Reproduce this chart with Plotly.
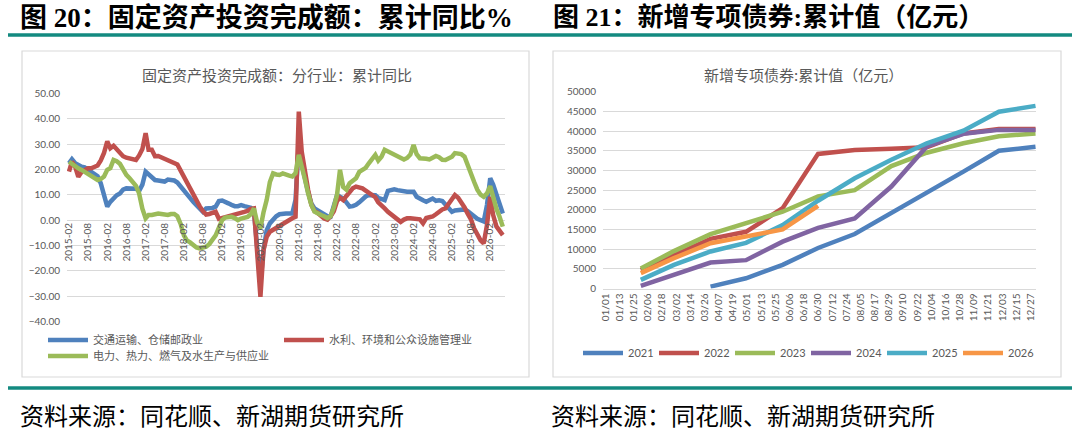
import pandas as pd
import plotly.graph_objects as go

W, H = 1080, 439

#%%# left chart: fixed asset investment by industry, cumulative yoy (%)
months = pd.date_range("2015-02-01", periods=137, freq="MS")

transport = [22.4, 24.0, 22.4, 21.5, 21.0, 20.8, 20.0, 19.3, 18.5, 17.3, 14.5,
             9.5, 5.3, 7.2, 8.8, 9.8, 10.5, 12.0, 12.5, 12.5, 12.5, 12.4, 11.5,
             14.0, 19.1, 18.0, 16.8, 15.8, 15.6, 15.5, 15.2, 16.0, 15.9, 15.6, 14.8,
             13.2, 11.9, 9.9, 8.5, 7.2, 5.9, 4.3, 3.3, 4.6, 4.6, 4.8, 5.3,
             7.5, 7.7, 7.0, 6.6, 6.0, 5.5, 5.5, 5.9, 5.5, 5.2, 4.9, 3.5,
             -10.0, -25.0, -12.0, -4.0, -1.3, 0.5, 1.5, 2.3, 2.6, 2.6, 2.6, 2.6,
             8.0, 30.5, 22.0, 15.8, 11.0, 6.5, 4.6, 3.8, 3.0, 2.0, 1.5, 1.3,
             6.0, 9.9, 9.2, 8.5, 7.0, 5.3, 5.5, 6.0, 7.0, 8.2, 9.3, 9.9,
             9.9, 9.8, 8.8, 8.3, 7.9, 11.5, 11.9, 12.1, 11.8, 11.5, 11.3, 11.2,
             11.2, 11.2, 9.2, 8.3, 7.8, 7.2, 8.0, 8.5, 7.6, 7.8, 7.5, 6.2,
             5.0, 3.3, 3.8, 4.0, 4.1, 4.2, 3.5, 2.5, 1.3, 0.5, 0.0, -0.5,
             5.9, 16.5, 14.0, 10.5, 6.0, 2.6]

water = [19.1, 23.0, 21.0, 17.1, 19.0, 19.8, 20.4, 20.4, 21.0, 21.5, 23.5,
         26.5, 31.0, 28.3, 29.3, 28.0, 26.5, 25.2, 24.6, 24.4, 24.0, 23.7, 25.5,
         28.0, 34.3, 27.7, 27.7, 25.2, 25.3, 24.8, 23.9, 23.3, 22.8, 22.5, 21.9,
         19.5, 17.1, 14.5, 12.0, 9.5, 7.3, 5.5, 3.5, 2.2, 2.4, 2.7, 3.3,
         0.5, 0.8, 1.3, 1.6, 1.8, 2.0, 2.4, 2.7, 3.2, 3.6, 4.4, 4.6,
         -13.0, -30.3, -12.0, -6.6, -4.6, -3.8, -2.8, -2.0, -1.3, -0.5, 0.3, 0.7,
         1.3, 42.8, 27.0, 18.0, 11.9, 6.0, 3.5, 2.8, 1.5, 0.6, 0.2, 1.5,
         3.5, 7.5, 8.8, 7.9, 9.5, 11.0, 12.5, 13.2, 13.0, 12.5, 11.6, 10.8,
         10.0, 9.0, 7.0, 5.5, 4.6, 3.3, 2.2, 1.0, 0.0, -0.7, 0.2, 0.7,
         0.7, 0.7, 0.5, 0.3, -1.3, 0.8, 1.1, 1.4, 2.3, 3.5, 4.2, 4.6,
         6.5, 7.9, 9.9, 8.8, 7.2, 5.0, 2.5, 0.3, -3.3, -6.0, -8.0, -9.2,
         -2.0, 9.2, 2.0, -2.5, -4.5, -5.9]

power = [23.0, 22.0, 21.3, 20.4, 19.8, 19.0, 18.2, 17.6, 16.5, 15.8, 16.2,
         17.2, 19.8, 20.5, 23.7, 23.2, 22.2, 19.8, 17.8, 16.5, 15.0, 13.5, 10.5,
         4.5, 0.7, 2.0, 2.0, 2.3, 2.6, 2.4, 2.2, 2.0, 2.4, 2.4, 1.5,
         -1.5, -6.0, -8.0, -8.8, -10.0, -10.8, -11.2, -11.0, -10.5, -9.5, -8.0, -6.0,
         -3.0, 0.0, 1.0, 1.3, 1.3, 0.8, 0.0, 0.6, 0.8, 1.2, 2.3, 4.6,
         -1.0, -3.3, 3.0, 8.0, 15.0, 18.4, 18.0, 17.8, 18.4, 17.8, 17.5, 17.2,
         18.5, 25.7, 21.5, 16.0, 10.5, 6.0, 3.3, 2.5, 2.0, 1.5, 0.8, 1.5,
         5.0, 10.0, 19.8, 13.0, 12.0, 14.5, 15.5, 16.5, 19.0, 20.0, 20.6, 22.4,
         24.0, 25.7, 23.5, 25.0, 27.7, 27.0, 26.3, 25.5, 25.1, 24.6, 23.9, 24.5,
         25.8, 29.6, 26.0, 24.4, 24.4, 24.2, 23.9, 24.6, 25.3, 24.8, 23.8, 23.7,
         24.5, 25.0, 26.4, 26.4, 26.0, 25.0, 21.5, 17.5, 15.0, 12.0, 10.0, 9.2,
         10.5, 13.4, 9.0, 4.5, 1.3, -2.6]

left_names = ["交通运输、仓储邮政业", "水利、环境和公众设施管理业", "电力、热力、燃气及水生产与供应业"]

#%%# right chart: new special bonds, cumulative (100m yuan), month ends
month_end = ["01-31", "02-28", "03-31", "04-30", "05-31", "06-30",
             "07-31", "08-31", "09-30", "10-31", "11-30", "12-31"]
years = ["2021", "2022", "2023", "2024", "2025", "2026"]
bond_2021 = [None, None, 470, 2600, 6000, 10300, 13850, 19100, 24200, 29700, 35000, 36000]
bond_2022 = [4700, 8500, 12600, 14400, 20400, 34200, 35200, 35500, 35900, 39400, 40500, 40500]
bond_2023 = [5100, 9500, 13800, 16600, 19500, 23400, 25000, 31100, 34500, 36900, 38700, 39400]
bond_2024 = [650, 3400, 6600, 7200, 11900, 15400, 17800, 25900, 36100, 39300, 40300, 40300]
bond_2025 = [2200, 6000, 9400, 11600, 16100, 22300, 28000, 32700, 36900, 40100, 44900, 46400]
bond_2026 = [3900, 7700, 11500, 13200, 15000, 21000]

left_colors = ["#4F81BD", "#C0504D", "#9BBB59"]
right_colors = ["#4F81BD", "#C0504D", "#9BBB59", "#8064A2", "#4BACC6", "#F79646"]

GRID = "#D9D9D9"
TXT = "#595959"
TEAL = "#138A80"
CJK = "Noto Sans CJK SC"
NUM = "Lato, Noto Sans CJK SC"


def px(x):
    return x / W


def py(y):
    return 1 - y / H


fig = go.Figure()

for name, vals, color, lg in zip(left_names, [transport, water, power], left_colors,
                                 ["legend", "legend", "legend2"]):
    fig.add_trace(go.Scatter(x=months, y=vals, name=name, mode="lines",
                             line=dict(color=color, width=4.5),
                             xaxis="x", yaxis="y", legend=lg))

bond_series = [bond_2021, bond_2022, bond_2023, bond_2024, bond_2025, bond_2026]
for yr, vals, color in zip(years, bond_series, right_colors):
    fig.add_trace(go.Scatter(x=["2021-" + d for d in month_end[:len(vals)]], y=vals,
                             name=yr, mode="lines", line=dict(color=color, width=4.5),
                             xaxis="x2", yaxis="y2", legend="legend3"))

tickfont = dict(family=NUM, size=10, color=TXT)

fig.update_layout(
    width=W, height=H,
    margin=dict(l=0, r=0, t=0, b=0, autoexpand=False),
    paper_bgcolor="white", plot_bgcolor="white",
    xaxis=dict(domain=[px(67), px(505)], anchor="free", position=py(220),
               type="date", range=["2015-01-13", "2026-06-22"],
               tick0="2015-02-01", dtick="M6", tickformat="%Y-%m", tickangle=-90,
               tickfont=tickfont, showgrid=False, zeroline=False, ticks="",
               automargin=False),
    yaxis=dict(domain=[py(321.5), py(93.3)], anchor="x", range=[-40, 50], dtick=10,
               tickformat=".2f", tickfont=tickfont, gridcolor=GRID, gridwidth=1,
               zeroline=False, ticklabelstandoff=6, automargin=False),
    xaxis2=dict(domain=[px(603), px(1036)], anchor="y2", type="date",
                range=["2020-12-30", "2021-12-31 10:00"],
                tick0="2021-01-01", dtick=12 * 86400000, tickformat="%m/%d",
                tickangle=-90, tickfont=tickfont, showgrid=False, zeroline=False,
                showline=True, linecolor=GRID, ticks="", automargin=False),
    yaxis2=dict(domain=[py(288.5), py(91.7)], anchor="x2", range=[0, 50000], dtick=5000,
                tickformat="d", tickfont=tickfont, gridcolor=GRID, gridwidth=1,
                zeroline=False, ticklabelstandoff=6, automargin=False),
    legend=dict(orientation="h", x=px(43), y=py(340), xanchor="left", yanchor="middle",
                entrywidth=181, itemwidth=40, font=dict(family=CJK, size=11, color=TXT),
                bgcolor="rgba(0,0,0,0)"),
    legend2=dict(orientation="h", x=px(43), y=py(356), xanchor="left", yanchor="middle",
                 itemwidth=40, font=dict(family=CJK, size=11, color=TXT),
                 bgcolor="rgba(0,0,0,0)"),
    legend3=dict(orientation="h", x=px(578), y=py(353), xanchor="left", yanchor="middle",
                 entrywidth=21, itemwidth=40, font=dict(family=NUM, size=11, color=TXT),
                 bgcolor="rgba(0,0,0,0)"),
)

# chart frames and teal rules
shapes = [
    dict(type="rect", xref="paper", yref="paper", x0=px(22), x1=px(529), y0=py(377), y1=py(51),
         line=dict(color=GRID, width=1.2)),
    dict(type="rect", xref="paper", yref="paper", x0=px(553), x1=px(1061), y0=py(377), y1=py(51),
         line=dict(color=GRID, width=1.2)),
    dict(type="line", xref="paper", yref="paper", x0=px(8), x1=px(1072), y0=py(35), y1=py(35),
         line=dict(color=TEAL, width=3.5)),
    dict(type="line", xref="paper", yref="paper", x0=px(8), x1=px(1072), y0=py(388), y1=py(388),
         line=dict(color=TEAL, width=3.5)),
]

serif_cjk = "Liberation Serif, " + CJK
foot_font = dict(family=serif_cjk, size=24, color="black")
title_font = dict(family=CJK, size=15, color=TXT)

annotations = [
    dict(text="图 20：固定资产投资完成额：累计同比%", x=px(18), y=py(18), xanchor="left",
         yanchor="middle", font=dict(family=serif_cjk, size=27, color="black", weight="bold")),
    dict(text="图 21：新增专项债券:累计值（亿元）", x=px(551), y=py(18), xanchor="left",
         yanchor="middle", font=dict(family=serif_cjk, size=26, color="black", weight="bold")),
    dict(text="固定资产投资完成额：分行业：累计同比", x=px(277), y=py(74), xanchor="center",
         yanchor="middle", font=title_font),
    dict(text="新增专项债券:累计值（亿元）", x=px(803), y=py(74), xanchor="center",
         yanchor="middle", font=title_font),
    dict(text="资料来源：同花顺、新湖期货研究所", x=px(18), y=py(417), xanchor="left",
         yanchor="middle", font=foot_font),
    dict(text="资料来源：同花顺、新湖期货研究所", x=px(549), y=py(417), xanchor="left",
         yanchor="middle", font=foot_font),
]
for a in annotations:
    a.update(xref="paper", yref="paper", showarrow=False)

fig.update_layout(shapes=shapes, annotations=annotations)

# the page body has a default 8px margin; drop it so the figure sits at the origin
fig.write_html("out.html", config={"displayModeBar": False},
               post_script="document.body.style.margin = '0';")
